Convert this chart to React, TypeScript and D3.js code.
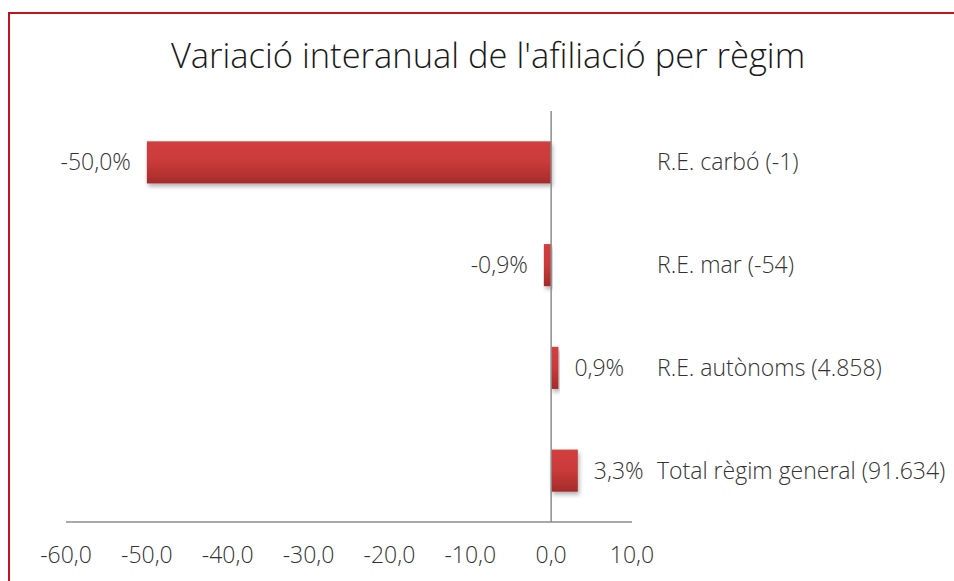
import React from "react";
import * as d3 from "d3";

const categories = ["R.E. carbó (-1)", "R.E. mar (-54)", "R.E. autònoms (4.858)", "Total règim general (91.634)"];
const values = [-50.0, -0.9, 0.9, 3.3];
const valueLabels = ["-50,0%", "-0,9%", "0,9%", "3,3%"];
const xTicks = [-60, -50, -40, -30, -20, -10, 0, 10];
const title = "Variació interanual de l'afiliació per règim";

const W = 954, H = 581;
const FONT = "'Open Sans', sans-serif";
const TXT = "#333333";

export default function App() {
  const x = d3.scaleLinear().domain([-60, 10]).range([66, 632]);
  const y = d3.scaleBand<string>().domain(categories).range([111, 522]).paddingInner(0.59).paddingOuter(0.295);
  const fmt = (v: number) => d3.format(".1f")(v).replace(".", ",").replace("\u2212", "-");
  return (
    <svg width={W} height={H} style={{ position: "absolute", left: 0, top: 0, background: "#fff" }}>
      <defs>
        <linearGradient id="barGrad" x1="0" y1="0" x2="0" y2="1">
          <stop offset="0" stopColor="#d23f3f" />
          <stop offset="0.5" stopColor="#c93a3a" />
          <stop offset="1" stopColor="#a52b2b" />
        </linearGradient>
        <filter id="shadow" x="-10%" y="-30%" width="130%" height="180%">
          <feDropShadow dx="1.5" dy="3" stdDeviation="2" floodColor="#000" floodOpacity="0.3" />
        </filter>
      </defs>
      <rect x={9} y={13} width={1200} height={1200} fill="none" stroke="#c0161b" strokeWidth={2} />
      <text x={488} y={68} textAnchor="middle" fontFamily={FONT} fontSize={34.5} fill="#1a1a1a" fontWeight={300}>{title}</text>
      {categories.map((c, i) => {
        const v = values[i];
        const x0 = x(Math.min(0, v)), x1 = x(Math.max(0, v));
        const yy = y(c)!;
        const bw = y.bandwidth();
        const cy = yy + bw / 2;
        return (
          <g key={c}>
            <rect x={x0} y={yy} width={x1 - x0} height={bw} fill="url(#barGrad)" filter="url(#shadow)" />
            <text x={v < 0 ? x0 - 16 : x1 + 16} y={cy} dy="0.35em" textAnchor={v < 0 ? "end" : "start"}
              fontFamily={FONT} fontSize={23} fontWeight={300} fill={TXT}>{valueLabels[i]}</text>
            <text x={657} y={cy} dy="0.35em" fontFamily={FONT} fontSize={23} fontWeight={300} fill={TXT}>{c}</text>
          </g>
        );
      })}
      <line x1={x(0)} x2={x(0)} y1={111} y2={522} stroke="#8c8c8c" strokeWidth={1.5} />
      <line x1={x(-60)} x2={x(10)} y1={522} y2={522} stroke="#8c8c8c" strokeWidth={1.5} />
      {xTicks.map(t => (
        <text key={t} x={x(t)} y={563} textAnchor="middle" fontFamily={FONT} fontSize={23} fontWeight={300} fill={TXT}>{fmt(t)}</text>
      ))}
    </svg>
  );
}
